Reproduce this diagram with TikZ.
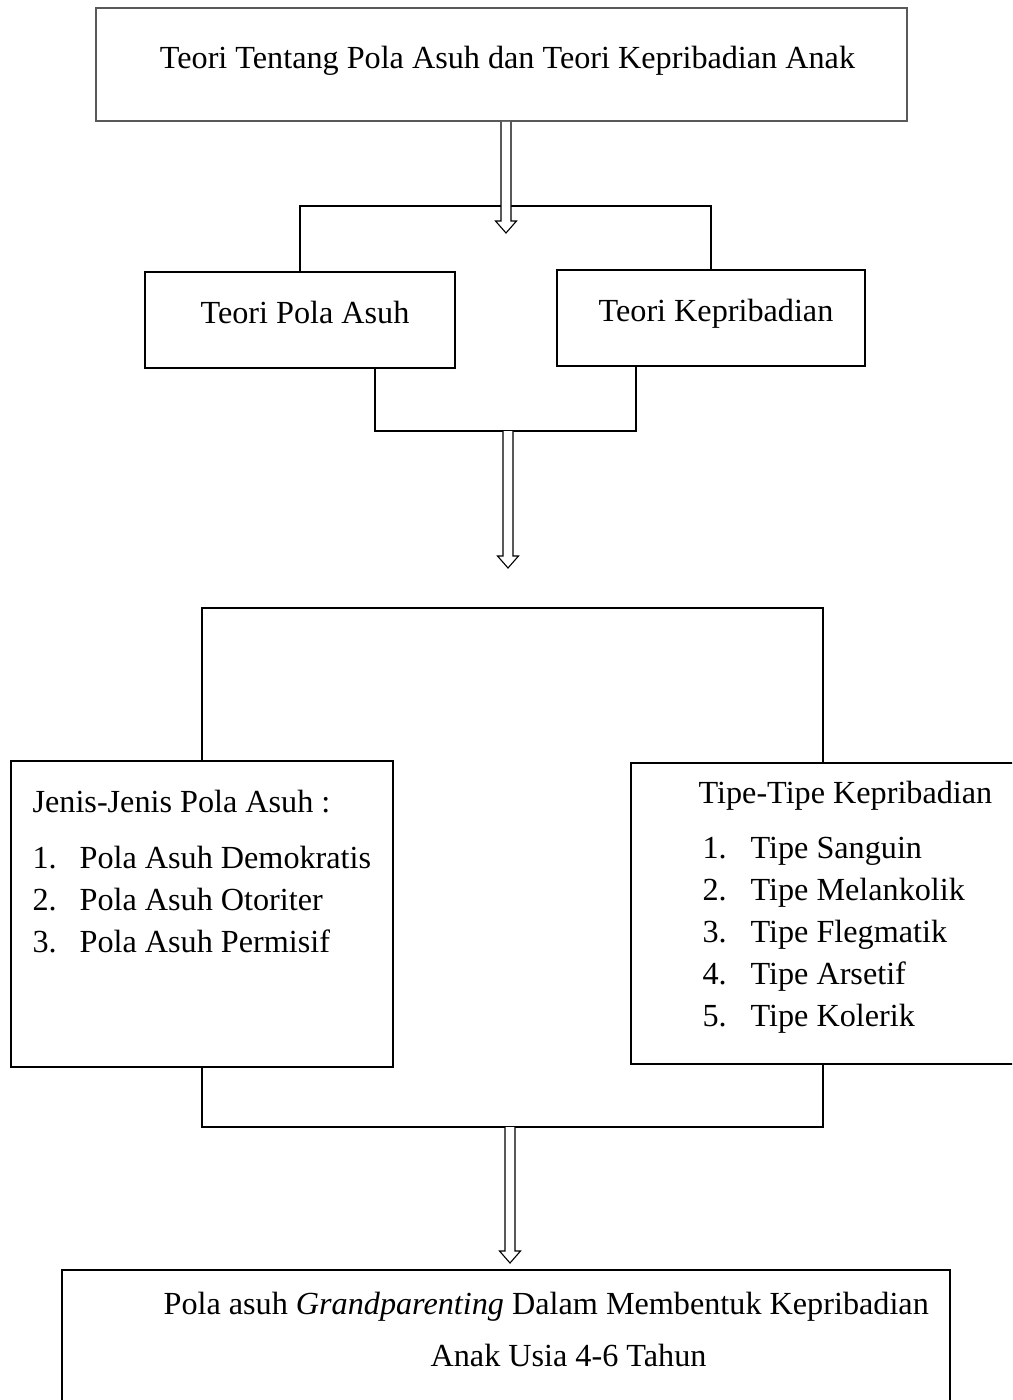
\documentclass[tikz,border=0pt]{standalone}
\usepackage{fontspec}
\setmainfont{Liberation Serif}
\usetikzlibrary{calc}

\tikzset{
  box/.style={draw, rectangle, inner sep=0pt, fill=white, text height=20pt, text depth=13pt},
  txt/.style={anchor=base west, inner sep=0pt},
  hollow/.style={draw, fill=white, line width=1.1pt, line join=miter}
}
% hollow arrow: from start (#1) down to tip (#2)
\newcommand{\hollowarrow}[2]{%
  \draw[hollow] ($(#1)+(-5,0)$) -- ($(#2)+(-5,-12)$) -- ($(#2)+(-10.5,-12)$) -- (#2)
     -- ($(#2)+(10.5,-12)$) -- ($(#2)+(5,-12)$) -- ($(#1)+(5,0)$);}

\begin{document}
\begin{tikzpicture}[x=1pt, y=-1pt, line width=1.2pt, font=\fontsize{32.2}{38}\selectfont]
\useasboundingbox (0,0) rectangle (1012,1400);
\clip (0,0) rectangle (1012,1400);

\node[box, draw=black!65, line width=1.6pt, minimum width=811pt, minimum height=113pt] (teori) at (501.5,64.5)
  {\hspace*{12pt}Teori Tentang Pola Asuh dan Teori Kepribadian Anak};

\node[box, minimum width=310pt, minimum height=96pt] (pola) at (300,320) {\hspace*{10pt}Teori Pola Asuh};
\node[box, minimum width=308pt, minimum height=96pt] (kep) at (711,318) {\hspace*{10pt}Teori Kepribadian};

%\draw[very thin, gray] (0,0) grid[step=100] (1012,1400);
\coordinate (split) at (505,206);
\coordinate (tip1) at (506,233);
\coordinate (merge) at (508,431);
\coordinate (tip2) at (508,568);

\draw (pola.north) |- (split) -| (kep.north);
\hollowarrow{teori.south -| tip1}{tip1}

\draw ([xshift=75pt]pola.south) |- (merge) -| ([xshift=-75pt]kep.south);
\hollowarrow{merge}{tip2}

% lists
\node[box, minimum width=382pt, minimum height=306pt] (jenis) at (202,914) {};
\node[box, minimum width=384pt, minimum height=301pt] (tipe) at (823,913.5) {};

\node[txt] (jhead) at (32,812) {Jenis-Jenis Pola Asuh :};
\foreach \i/\t in {1/Pola Asuh Demokratis, 2/Pola Asuh Otoriter, 3/Pola Asuh Permisif}
{
  \node[txt] (jn\i) at (32,826+42*\i) {\i.};
  \node[txt] (jt\i) at (79,826+42*\i) {\t};
}

\node[txt] (thead) at (698,803) {Tipe-Tipe Kepribadian};
\foreach \i/\t in {1/Tipe Sanguin, 2/Tipe Melankolik, 3/Tipe Flegmatik, 4/Tipe Arsetif, 5/Tipe Kolerik}
{
  \node[txt] (tn\i) at (702,816+42*\i) {\i.};
  \node[txt] (tt\i) at (750,816+42*\i) {\t};
}

\coordinate (frametop) at (512,608);
\coordinate (framebot) at (510,1127);
\draw (jenis.north) |- (frametop) -| (tipe.north);
\draw (jenis.south) |- (framebot) -| (tipe.south);

\coordinate (tip3) at (510,1263);
\hollowarrow{framebot}{tip3}

% result
\node[box, minimum width=888pt, minimum height=150pt] (hasil) at (506,1345) {};
\node[txt] (h1) at (163,1314) {Pola asuh \textit{Grandparenting} Dalam Membentuk Kepribadian};
\node[txt] (h2) at (430,1366) {Anak Usia 4-6 Tahun};

\end{tikzpicture}
\end{document}
